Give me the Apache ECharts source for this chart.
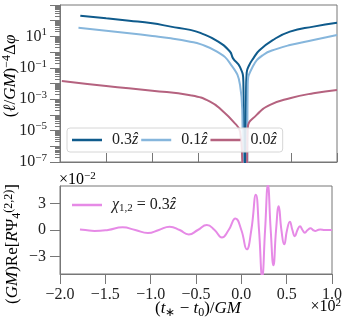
<!DOCTYPE html>
<html>
<head>
<meta charset="utf-8">
<script src="https://cdn.jsdelivr.net/npm/echarts@6/dist/echarts.min.js"></script>
<style>
  html, body { margin: 0; padding: 0; background: #fff; }
  #chart { width: 345px; height: 318px; }
</style>
</head>
<body>
<div id="chart"></div>
<script>
// top panel: dephasing for three spin values
const tDark = [-178, -150, -125, -100, -80, -59, -48, -30, -16, -12.6, -5, -1.4, -0.3, 0.8, 1.5, 2.2, 5, 9.4, 16, 30, 49, 74.5, 100];
const vDark = [209, 141, 100, 68, 42, 26, 16.6, 5.2, 1.1, 0.4, 0.11, 0.013, 1e-9, 1e-9, 0.0025, 0.05, 0.15, 0.4, 1.3, 5.6, 20, 42, 74];
const tLight = [-180, -150, -125, -100, -80, -59, -48, -30, -16, -5, -2.5, -1.6, 2.5, 3.3, 8.8, 20, 35, 49, 74.5, 100];
const vLight = [35, 23, 16, 10.7, 7.5, 4.6, 3.2, 1.07, 0.2, 0.008, 1e-4, 1e-9, 1e-9, 0.008, 0.12, 0.66, 1.6, 2.8, 5.9, 12.3];
const tPink = [-198, -150, -100, -59, -37.5, -23, -12.3, -5, -2.5, -1.6, 2, 3.3, 13, 27.5, 49, 74.5, 100];
const vPink = [0.0145, 0.0069, 0.0035, 0.0018, 0.0007, 0.00016, 3.7e-5, 8.5e-6, 1e-7, 1e-9, 1e-9, 1.4e-5, 1e-4, 4.3e-4, 0.00115, 0.0024, 0.0039];
const spinNames = ['0.3', '0.1', '0.0'];

// bottom panel: Re(Psi4) in units of 1e-2
const tWave = [-178, -172, -162, -147, -131, -117, -103, -91, -79, -68, -58, -48, -38, -29.5, -21.5, -14, -6.5, 0, 6, 11, 16, 19.5, 23, 26.2, 29.3, 32.4, 35.4, 38.3, 41.2, 44.2, 47.3, 50.4, 53.5, 56.3, 59, 61.9, 64.7, 67.4, 70, 73.1, 76.3, 79, 81.7, 84.4, 87, 92, 100];
const vWave = [0.06, 0, -0.12, 0, 0.3, 0, -0.35, 0, 0.38, 0, -0.5, 0, 0.57, 0, -0.85, 0, 1.3, 0, -2.2, 0, 4.0, 0, -5.3, 0, 5.1, 0, -4.0, 0, 2.7, 0, -1.63, 0, 0.95, 0, -0.7, 0, 0.42, 0, -0.3, 0, 0.2, 0, -0.1, 0, 0.05, 0, 0];

const yTicksBottom = [-3, 0, 3];

const FONT = 'Liberation Serif';
const TXT = '#222';
const AX = '#777';

const pair = (ts, vs) => ts.map((t, i) => [t, vs[i]]);

const rich = {
  n: { fontFamily: FONT, fontSize: 16, color: TXT },
  np: { fontFamily: FONT, fontSize: 16, color: TXT, padding: [0, 0, 0, 5] },
  i: { fontFamily: FONT, fontSize: 16, color: TXT, fontStyle: 'italic' },
  s: { fontFamily: FONT, fontSize: 11, color: TXT, padding: [0, 0, 8, 0] },
  d: { fontFamily: FONT, fontSize: 11, color: TXT, padding: [7, 0, 0, 0] },
  N: { fontFamily: FONT, fontSize: 17, color: TXT },
  I: { fontFamily: FONT, fontSize: 17, color: TXT, fontStyle: 'italic' },
  S: { fontFamily: FONT, fontSize: 12, color: TXT, padding: [0, 0, 9, 0] },
  D: { fontFamily: FONT, fontSize: 12, color: TXT, padding: [8, 0, 0, 0] },
  b: { fontFamily: FONT, fontSize: 16, color: TXT },
  bs: { fontFamily: FONT, fontSize: 11, color: TXT, padding: [0, 0, 8, 0] }
};

const chart = echarts.init(document.getElementById('chart'));

const lineSeries = (name, data, color, xi) => ({
  name: name,
  type: 'line',
  xAxisIndex: xi,
  yAxisIndex: xi,
  data: data,
  showSymbol: false,
  smooth: 0.5,
  clip: true,
  itemStyle: { color: color },
  lineStyle: { color: color, width: 2 },
  animation: false
});

const option = {
  animation: false,
  grid: [
    { left: 60, right: 8, top: 5, height: 157, show: true, borderColor: AX, borderWidth: 1 },
    { left: 60, right: 8, top: 186, height: 88, show: true, borderColor: AX, borderWidth: 1 }
  ],
  legend: [
    {
      data: spinNames,
      left: 67, top: 128,
      itemWidth: 30, itemHeight: 2.5, itemGap: 3,
      icon: 'rect',
      padding: [4, 6, 4, 5],
      backgroundColor: 'rgba(255,255,255,0.85)',
      borderColor: '#d6d6d6', borderWidth: 1, borderRadius: 3,
      formatter: n => '{np|' + n + '}{i|ẑ}',
      textStyle: { rich: rich }
    },
    {
      data: ['chi'],
      left: 72, top: 197,
      itemWidth: 30, itemHeight: 2.5,
      icon: 'rect',
      padding: 0,
      formatter: () => '{np|}{i|χ}{d|1,2}{n| = 0.3}{i|ẑ}',
      textStyle: { rich: rich }
    }
  ],
  xAxis: [
    {
      gridIndex: 0, type: 'value', min: -200, max: 100, interval: 50,
      axisLine: { onZero: false, lineStyle: { color: AX } },
      axisTick: { inside: true, length: 9, lineStyle: { color: AX } },
      axisLabel: { show: false },
      splitLine: { show: false }
    },
    {
      gridIndex: 1, type: 'value', min: -200, max: 100, interval: 50,
      axisLine: { onZero: false, lineStyle: { color: AX } },
      axisTick: { length: 10, lineStyle: { color: AX } },
      axisLabel: {
        margin: 13, fontFamily: FONT, fontSize: 16, color: TXT,
        formatter: v => (v / 100).toFixed(1).replace('-', '−')
      },
      splitLine: { show: false }
    }
  ],
  yAxis: [
    {
      gridIndex: 0, type: 'log', logBase: 10, min: 1e-7, max: 1e3, interval: 1,
      axisLine: { show: true, onZero: false, lineStyle: { color: AX } },
      axisTick: { length: 10, lineStyle: { color: AX } },
      minorTick: { show: true, splitNumber: 9, length: 5, lineStyle: { color: AX } },
      axisLabel: {
        margin: 13,
        formatter: v => {
          const e = Math.round(Math.log10(v));
          if (Math.abs(e) % 2 !== 1 || e > 1) return '';
          return '{b|10}{bs|' + (e < 0 ? '−' : '') + Math.abs(e) + '}';
        },
        rich: rich
      },
      splitLine: { show: false }
    },
    {
      gridIndex: 1, type: 'value', min: -5, max: 5,
      axisLine: { show: true, onZero: false, lineStyle: { color: AX } },
      axisTick: { length: 10, customValues: yTicksBottom, lineStyle: { color: AX } },
      axisLabel: {
        margin: 14, fontFamily: FONT, fontSize: 16, color: TXT,
        customValues: yTicksBottom,
        formatter: v => (v < 0 ? '−' + (-v) : String(v))
      },
      splitLine: { show: false }
    }
  ],
  graphic: [
    {
      type: 'text', x: 11, y: 76, rotation: Math.PI / 2,
      style: {
        text: '{N|(}{I|ℓ}{N|/}{I|GM}{N|)}{S|−4}{N|Δ}{I|φ}',
        rich: rich, align: 'center', verticalAlign: 'middle'
      }
    },
    {
      type: 'text', x: 13, y: 244, rotation: Math.PI / 2,
      style: {
        text: '{N|(}{I|GM}{N|)Re[}{I|R}{N|Ψ}{D|4}{S|(2,2)}{N|]}',
        rich: rich, align: 'center', verticalAlign: 'middle'
      }
    },
    {
      type: 'text', x: 198, y: 309,
      style: {
        text: '{N|(}{I|t}{D|∗}{N| − }{I|t}{D|0}{N|)/}{I|GM}',
        rich: rich, align: 'center', verticalAlign: 'middle'
      }
    },
    {
      type: 'text', x: 341, y: 307,
      style: { text: '{n|×10}{s|2}', rich: rich, align: 'right', verticalAlign: 'middle' }
    },
    {
      type: 'text', x: 59, y: 180,
      style: { text: '{n|×10}{s|−2}', rich: rich, align: 'left', verticalAlign: 'middle' }
    }
  ],
  series: [
    lineSeries(spinNames[0], pair(tDark, vDark), '#0f5b8c', 0),
    lineSeries(spinNames[1], pair(tLight, vLight), '#86b6dc', 0),
    lineSeries(spinNames[2], pair(tPink, vPink), '#b5627f', 0),
    lineSeries('chi', pair(tWave, vWave), '#e68ae6', 1)
  ]
};

chart.setOption(option);
</script>
</body>
</html>
